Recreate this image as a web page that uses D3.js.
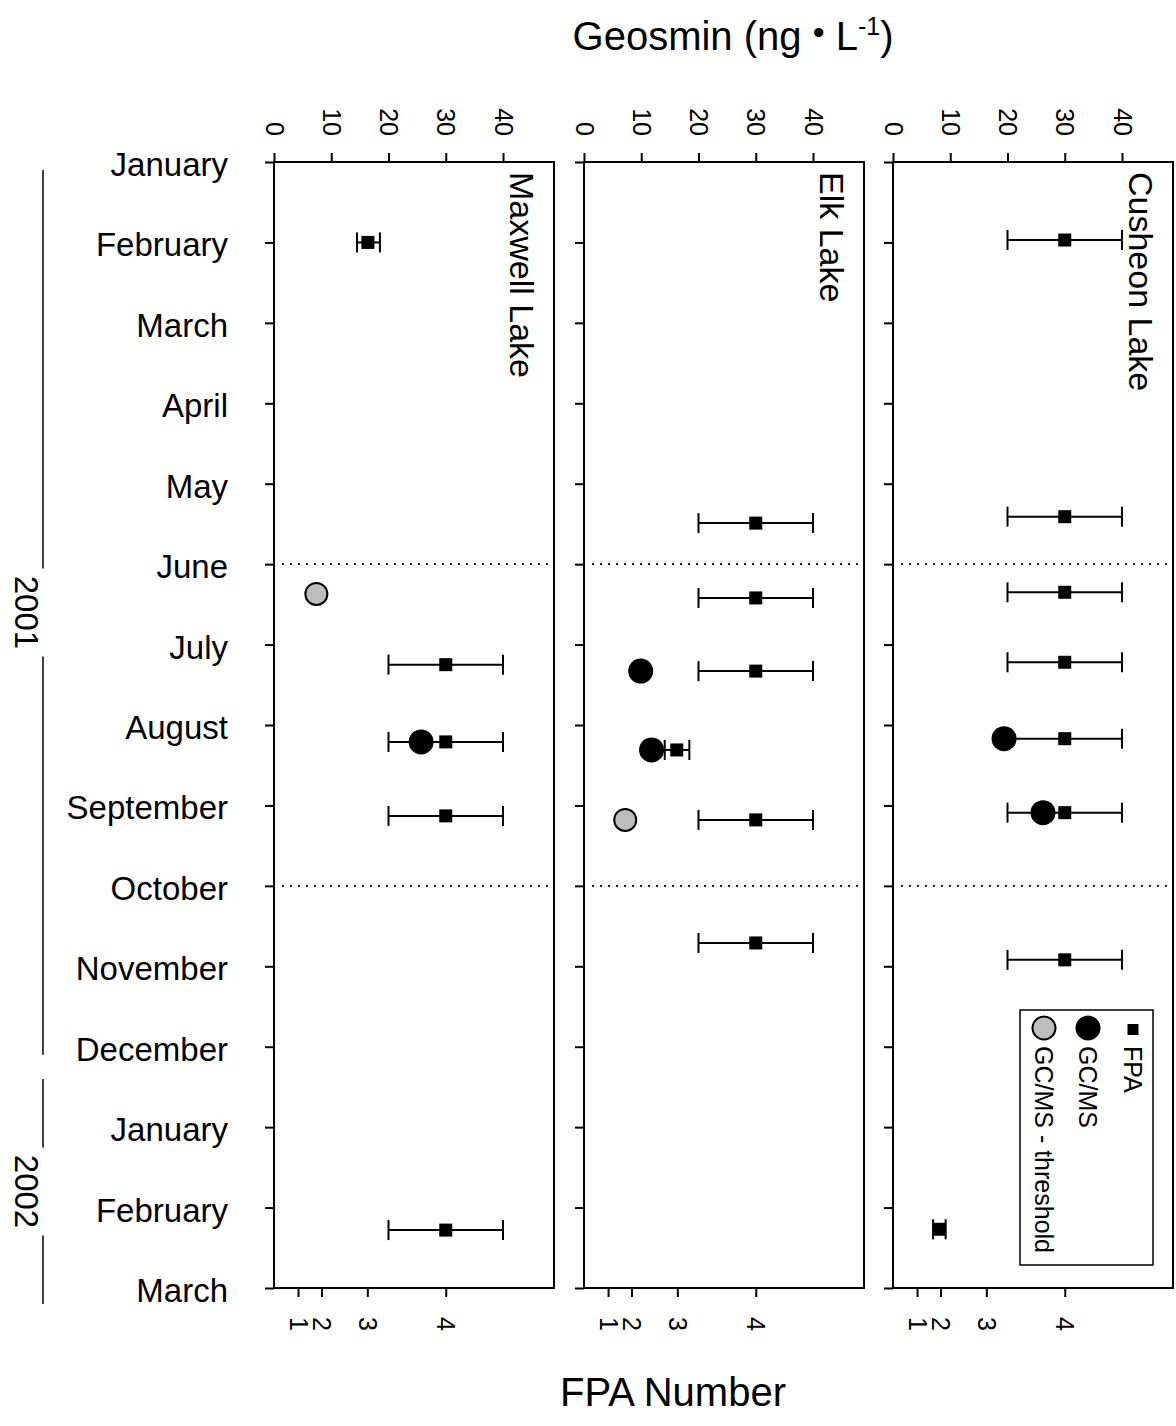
<!DOCTYPE html>
<html>
<head>
<meta charset="utf-8">
<script src="https://cdn.jsdelivr.net/npm/d3@7"></script>
<style>
  body { margin: 0; background: #fff; }
  text { font-family: "Liberation Sans", Arial, sans-serif; fill: #000; }
</style>
</head>
<body>
<script>
// month ticks on the vertical axis (Jan 2001 .. Mar 2002)
var months = ['January', 'February', 'March', 'April', 'May', 'June', 'July',
  'August', 'September', 'October', 'November', 'December',
  'January', 'February', 'March'];
var lakes = ['Maxwell Lake', 'Elk Lake', 'Cusheon Lake'];
var geoTicks = [0, 10, 20, 30, 40];
// FPA number ticks and their geosmin equivalents
var fpaLabels = ['1', '2', '3', '4'];
var fpaGeosmin = [4.2, 8.3, 16.3, 30];
var seasonLines = [5, 9];   // June, October
var years = [
  { label: '2001', from: 0.1, to: 11.1 },
  { label: '2002', from: 11.4, to: 14.2 }
];
var legendLabels = ['FPA', 'GC/MS', 'GC/MS - threshold'];

// month = month index (0 = Jan 2001), value in ng/L
var maxwellFPA = [
  { month: 1.0, mid: 16.4, lo: 14.5, hi: 18.5 },
  { month: 6.25, mid: 30, lo: 20, hi: 40 },
  { month: 7.21, mid: 30, lo: 20, hi: 40 },
  { month: 8.13, mid: 30, lo: 20, hi: 40 },
  { month: 13.28, mid: 30, lo: 20, hi: 40 }
];
var maxwellGCMS = [{ month: 7.21, value: 25.7 }];
var maxwellThreshold = [{ month: 5.37, value: 7.4 }];

var elkFPA = [
  { month: 4.49, mid: 30, lo: 20, hi: 40 },
  { month: 5.42, mid: 30, lo: 20, hi: 40 },
  { month: 6.33, mid: 30, lo: 20, hi: 40 },
  { month: 7.31, mid: 16.2, lo: 14.1, hi: 18.4 },
  { month: 8.18, mid: 30, lo: 20, hi: 40 },
  { month: 9.71, mid: 30, lo: 20, hi: 40 }
];
var elkGCMS = [{ month: 6.33, value: 9.9 }, { month: 7.31, value: 11.8 }];
var elkThreshold = [{ month: 8.18, value: 7.2 }];

var cusheonFPA = [
  { month: 0.97, mid: 30, lo: 20, hi: 40 },
  { month: 4.41, mid: 30, lo: 20, hi: 40 },
  { month: 5.35, mid: 30, lo: 20, hi: 40 },
  { month: 6.22, mid: 30, lo: 20, hi: 40 },
  { month: 7.17, mid: 30, lo: 20, hi: 40 },
  { month: 8.09, mid: 30, lo: 20, hi: 40 },
  { month: 9.92, mid: 30, lo: 20, hi: 40 },
  { month: 13.27, mid: 8.1, lo: 7.0, hi: 9.2 }
];
var cusheonGCMS = [{ month: 7.17, value: 19.4 }, { month: 8.09, value: 26.2 }];
var cusheonThreshold = [];

var fpaData = [maxwellFPA, elkFPA, cusheonFPA];
var gcmsData = [maxwellGCMS, elkGCMS, cusheonGCMS];
var thresholdData = [maxwellThreshold, elkThreshold, cusheonThreshold];

var WIDTH = 1176, HEIGHT = 1426;
var TOP = 162, BOTTOM = 1288;
var PANEL_W = 280;
var panelX = [274, 584, 893];
var GREY = '#bdbdbd';

var svg = d3.select('body').append('svg')
  .attr('width', WIDTH)
  .attr('height', HEIGHT);

var y = d3.scaleLinear().domain([0, 14]).range([TOP, BOTTOM]);
var x = d3.scaleLinear().domain([0, 40]).range([0, 229]);

lakes.forEach(function(lake, i) {
  var g = svg.append('g').attr('transform', 'translate(' + panelX[i] + ',0)');

  // left month axis
  var left = g.append('g')
    .call(d3.axisLeft(y).tickValues(d3.range(months.length)).tickSize(9).tickPadding(37)
      .tickFormat(function(d) { return i === 0 ? months[d] : ''; }));
  left.select('.domain').remove();
  left.selectAll('line').attr('stroke-width', 2);
  left.selectAll('text').attr('dy', '0.35em').attr('y', 2)
    .style('font-size', '33px');

  // top geosmin axis
  var top = g.append('g').attr('transform', 'translate(0,' + TOP + ')')
    .call(d3.axisTop(x).tickValues(geoTicks).tickSize(9));
  top.select('.domain').remove();
  top.selectAll('line').attr('stroke-width', 2);
  top.selectAll('text')
    .attr('y', null).attr('dy', null)
    .attr('transform', 'translate(0,-26) rotate(90)')
    .attr('text-anchor', 'end')
    .attr('dominant-baseline', 'central')
    .style('font-size', '25px');

  // bottom FPA axis
  var bottom = g.append('g').attr('transform', 'translate(0,' + BOTTOM + ')')
    .call(d3.axisBottom(x).tickValues(fpaGeosmin).tickSize(9)
      .tickFormat(function(d, k) { return fpaLabels[k]; }));
  bottom.select('.domain').remove();
  bottom.selectAll('line').attr('stroke-width', 2);
  bottom.selectAll('text')
    .attr('y', null).attr('dy', null)
    .attr('transform', 'translate(0,29) rotate(90)')
    .attr('text-anchor', 'start')
    .attr('dominant-baseline', 'central')
    .style('font-size', '25px');

  // frame
  g.append('rect')
    .attr('x', 0).attr('y', TOP)
    .attr('width', PANEL_W).attr('height', BOTTOM - TOP)
    .attr('fill', 'none').attr('stroke', '#000').attr('stroke-width', 2);

  // dotted season lines
  g.selectAll('.season').data(seasonLines).enter().append('line')
    .attr('x1', 8).attr('x2', PANEL_W - 2)
    .attr('y1', function(d) { return y(d); })
    .attr('y2', function(d) { return y(d); })
    .attr('stroke', '#000').attr('stroke-width', 1.6)
    .attr('stroke-dasharray', '2,6');

  // panel title
  g.append('text')
    .attr('transform', 'translate(' + (PANEL_W - 44) + ',' + (TOP + 10) + ') rotate(90)')
    .attr('text-anchor', 'start')
    .style('font-size', '34px')
    .text(lake);

  // FPA error bars
  var eb = g.selectAll('.eb').data(fpaData[i]).enter().append('g')
    .attr('stroke', '#000').attr('stroke-width', 2);
  eb.append('line')
    .attr('x1', function(d) { return x(d.lo); })
    .attr('x2', function(d) { return x(d.hi); })
    .attr('y1', function(d) { return y(d.month); })
    .attr('y2', function(d) { return y(d.month); });
  eb.append('line')
    .attr('x1', function(d) { return x(d.lo); })
    .attr('x2', function(d) { return x(d.lo); })
    .attr('y1', function(d) { return y(d.month) - 10; })
    .attr('y2', function(d) { return y(d.month) + 10; });
  eb.append('line')
    .attr('x1', function(d) { return x(d.hi); })
    .attr('x2', function(d) { return x(d.hi); })
    .attr('y1', function(d) { return y(d.month) - 10; })
    .attr('y2', function(d) { return y(d.month) + 10; });

  // GC/MS
  g.selectAll('.gcms').data(gcmsData[i]).enter().append('circle')
    .attr('cx', function(d) { return x(d.value); })
    .attr('cy', function(d) { return y(d.month); })
    .attr('r', 12.5)
    .attr('fill', '#000');

  // GC/MS threshold
  g.selectAll('.thr').data(thresholdData[i]).enter().append('circle')
    .attr('cx', function(d) { return x(d.value); })
    .attr('cy', function(d) { return y(d.month); })
    .attr('r', 11)
    .attr('fill', GREY).attr('stroke', '#000').attr('stroke-width', 2);

  // FPA squares
  g.selectAll('.fpa').data(fpaData[i]).enter().append('rect')
    .attr('x', function(d) { return x(d.mid) - 6.5; })
    .attr('y', function(d) { return y(d.month) - 6.5; })
    .attr('width', 13).attr('height', 13)
    .attr('fill', '#000');

  // legend in last panel
  if (i === lakes.length - 1) {
    var lg = g.append('g');
    lg.append('rect')
      .attr('x', 127).attr('y', 1010)
      .attr('width', 133).attr('height', 255)
      .attr('fill', '#fff').attr('stroke', '#000').attr('stroke-width', 1.5);
    var colX = [240, 195, 151];
    legendLabels.forEach(function(lbl, k) {
      if (k === 0) {
        lg.append('rect').attr('x', colX[k] - 5.5).attr('y', 1024)
          .attr('width', 11).attr('height', 11).attr('fill', '#000');
      } else {
        lg.append('circle').attr('cx', colX[k]).attr('cy', 1028).attr('r', 11.5)
          .attr('fill', k === 1 ? '#000' : GREY)
          .attr('stroke', '#000').attr('stroke-width', 2);
      }
      lg.append('text')
        .attr('transform', 'translate(' + colX[k] + ',1046) rotate(90)')
        .attr('text-anchor', 'start')
        .attr('dominant-baseline', 'central')
        .style('font-size', '25px')
        .text(lbl);
    });
  }
});

// year brackets on the far left
years.forEach(function(yr) {
  var mid = (y(yr.from) + y(yr.to)) / 2;
  svg.append('line').attr('x1', 43).attr('x2', 43)
    .attr('y1', y(yr.from)).attr('y2', mid - 44)
    .attr('stroke', '#000').attr('stroke-width', 1.5);
  svg.append('line').attr('x1', 43).attr('x2', 43)
    .attr('y1', mid + 44).attr('y2', y(yr.to))
    .attr('stroke', '#000').attr('stroke-width', 1.5);
  svg.append('text')
    .attr('transform', 'translate(26,' + mid + ') rotate(90)')
    .attr('text-anchor', 'middle')
    .attr('dominant-baseline', 'central')
    .style('font-size', '33px')
    .text(yr.label);
});

// axis titles
var title = svg.append('text')
  .attr('x', 733).attr('y', 50)
  .attr('text-anchor', 'middle')
  .style('font-size', '40px');
title.append('tspan').text('Geosmin (ng ');
title.append('tspan').attr('dy', -6).style('font-size', '34px').text('\u2022');
title.append('tspan').attr('dy', 6).text(' L');
title.append('tspan').attr('dy', -15).style('font-size', '25px').text('-1');
title.append('tspan').attr('dy', 15).text(')');

svg.append('text')
  .attr('x', 673).attr('y', 1406)
  .attr('text-anchor', 'middle')
  .style('font-size', '40px')
  .text('FPA Number');
</script>
</body>
</html>
